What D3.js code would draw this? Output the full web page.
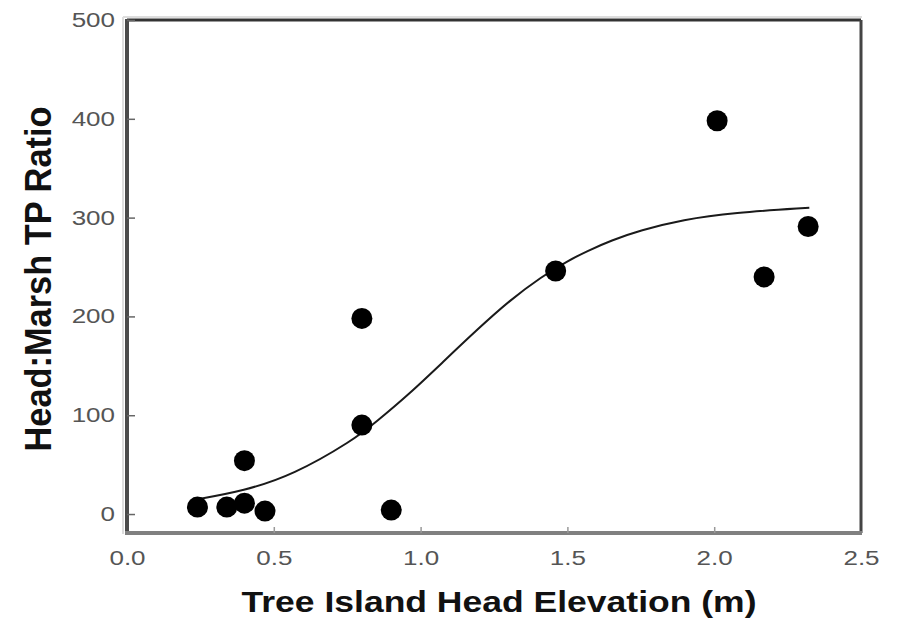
<!DOCTYPE html>
<html>
<head>
<meta charset="utf-8">
<script src="https://cdn.jsdelivr.net/npm/d3@7"></script>
<style>
  body { margin: 0; background: #fff; }
  svg { display: block; }
</style>
</head>
<body>
<svg id="chart" width="897" height="622"></svg>
<script>
// Observed data points (Tree island head elevation in m, Head:Marsh TP ratio)
const elevation = [0.24, 0.34, 0.40, 0.40, 0.47, 0.80, 0.80, 0.90, 1.46, 2.01, 2.17, 2.32];
const tpRatio   = [7, 7, 54, 11, 3, 198, 90, 4, 246, 398, 240, 291];

// Fitted curve
const curveX = [0.237, 0.396, 0.566, 0.771, 0.845, 0.964, 1.077, 1.191, 1.305, 1.412, 1.5, 1.566, 1.65, 1.747, 1.894, 2.064, 2.324];
const curveY = [14.9, 23.3, 39.5, 74.9, 92.4, 122.2, 154.1, 186.2, 216.6, 240.2, 256.0, 266.0, 277.0, 287.0, 298.0, 305.0, 310.0];

const xTicks = [0.0, 0.5, 1.0, 1.5, 2.0, 2.5];
const yTicks = [0, 100, 200, 300, 400, 500];

const xTitle = "Tree Island Head Elevation (m)";
const yTitle = "Head:Marsh TP Ratio";

const svg = d3.select("#chart");
const pLeft = 127, pRight = 861, pTop = 20, pBottom = 533;

const x = d3.scaleLinear().domain([0, 2.5]).range([pLeft, pRight]);
const y = d3.scaleLinear().domain([-19.2, 500]).range([pBottom, pTop]);

const font = "'Liberation Sans', Arial, sans-serif";

// frame shadow lines
svg.append("line").attr("x1", pLeft - 4).attr("x2", pRight + 1).attr("y1", pTop - 3).attr("y2", pTop - 3)
  .attr("stroke", "#ddd").attr("stroke-width", 2);
svg.append("line").attr("x1", pLeft - 4).attr("x2", pLeft - 4).attr("y1", pTop - 3).attr("y2", pBottom + 1)
  .attr("stroke", "#ddd").attr("stroke-width", 2);

// frame
svg.append("line").attr("x1", pLeft).attr("x2", pRight).attr("y1", pTop).attr("y2", pTop)
  .attr("stroke", "#333").attr("stroke-width", 3);
svg.append("line").attr("x1", pRight).attr("x2", pRight).attr("y1", pTop).attr("y2", pBottom)
  .attr("stroke", "#444").attr("stroke-width", 3);
svg.append("line").attr("x1", pLeft).attr("x2", pLeft).attr("y1", pTop - 1).attr("y2", pBottom)
  .attr("stroke", "#4a4a4a").attr("stroke-width", 4);
svg.append("line").attr("x1", pLeft - 2).attr("x2", pRight + 1).attr("y1", pBottom).attr("y2", pBottom)
  .attr("stroke", "#808080").attr("stroke-width", 4);

// axes via d3
const xAxis = d3.axisBottom(x).tickValues(xTicks).tickFormat(d3.format(".1f")).tickSize(5).tickPadding(13);
const gx = svg.append("g").attr("transform", `translate(0,${pBottom})`).call(xAxis);
gx.select(".domain").remove();
gx.selectAll(".tick line").attr("y2", -6).attr("stroke", "#999").attr("stroke-width", 1.5);
gx.selectAll(".tick text").attr("font-family", font).attr("font-size", 20).attr("fill", "#555")
  .attr("dy", "0.71em")
  .each(function() {
    const w = this.getComputedTextLength();
    d3.select(this).attr("textLength", w * 1.3).attr("lengthAdjust", "spacingAndGlyphs");
  });
gx.selectAll(".tick").filter(d => d === 0 || d === 2.5).select("line").remove();

const yAxis = d3.axisLeft(y).tickValues(yTicks).tickFormat(d3.format("d")).tickSize(0).tickPadding(12);
const gy = svg.append("g").attr("transform", `translate(${pLeft},0)`).call(yAxis);
gy.select(".domain").remove();
gy.selectAll(".tick").append("line").attr("x1", 0).attr("x2", 8).attr("stroke", "#666").attr("stroke-width", 1.5);
gy.selectAll(".tick").filter(d => d === 500).select("line").remove();
gy.selectAll(".tick text").attr("font-family", font).attr("font-size", 20).attr("fill", "#555")
  .each(function() {
    const w = this.getComputedTextLength();
    d3.select(this).attr("textLength", w * 1.3).attr("lengthAdjust", "spacingAndGlyphs");
  });

// fitted curve
const curvePts = curveX.map((v, i) => [v, curveY[i]]);
const line = d3.line().x(d => x(d[0])).y(d => y(d[1])).curve(d3.curveBasis);
svg.append("path").datum(curvePts).attr("d", line)
  .attr("fill", "none").attr("stroke", "#1a1a1a").attr("stroke-width", 2);

// points
const pts = elevation.map((v, i) => [v, tpRatio[i]]);
svg.append("g").selectAll("circle").data(pts).join("circle")
  .attr("cx", d => x(d[0])).attr("cy", d => y(d[1])).attr("r", 10.5).attr("fill", "#000");

// titles
svg.append("text").attr("x", 499).attr("y", 612).attr("text-anchor", "middle")
  .attr("font-family", font).attr("font-weight", "bold").attr("font-size", 30).attr("fill", "#111")
  .attr("textLength", 515).attr("lengthAdjust", "spacingAndGlyphs").text(xTitle);

svg.append("text").attr("transform", "translate(51,279) scale(1.2,1) rotate(-90)")
  .attr("text-anchor", "middle")
  .attr("font-family", font).attr("font-weight", "bold").attr("font-size", 30).attr("fill", "#111")
  .attr("textLength", 345).attr("lengthAdjust", "spacingAndGlyphs").text(yTitle);
</script>
</body>
</html>
